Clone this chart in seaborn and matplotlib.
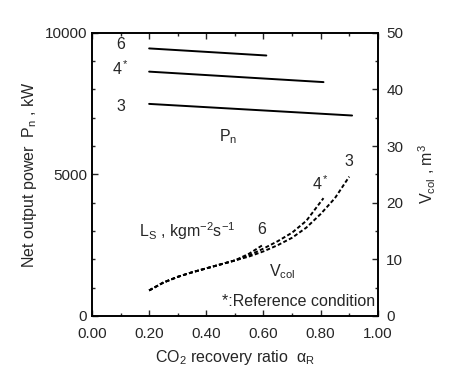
import numpy as np
import matplotlib.pyplot as plt
import pandas as pd
import seaborn as sns
from matplotlib.ticker import MultipleLocator

sns.set_theme(style="ticks")
plt.rcParams['font.family'] = ['Liberation Sans', 'DejaVu Sans']
plt.rcParams['mathtext.fontset'] = 'custom'
plt.rcParams['mathtext.rm'] = 'Liberation Sans'
plt.rcParams['mathtext.it'] = 'Liberation Sans'

# Net output power Pn (kW) for each liquid flux Ls
pn_x_6 = [0.20, 0.61]
pn_y_6 = [9450, 9200]
pn_x_4 = [0.20, 0.81]
pn_y_4 = [8630, 8260]
pn_x_3 = [0.20, 0.91]
pn_y_3 = [7490, 7080]

# Column volume Vcol (m3)
v_x_6 = [0.20, 0.25, 0.30, 0.35, 0.40, 0.45, 0.50, 0.55, 0.60]
v_y_6 = [4.5, 5.9, 6.9, 7.7, 8.4, 9.1, 9.8, 11.0, 12.6]
v_x_4 = [0.20, 0.25, 0.30, 0.35, 0.40, 0.45, 0.50, 0.55, 0.60, 0.65, 0.70, 0.75, 0.81]
v_y_4 = [4.5, 5.9, 6.9, 7.7, 8.4, 9.1, 9.8, 10.7, 11.9, 13.2, 14.7, 16.8, 20.8]
v_x_3 = [0.20, 0.25, 0.30, 0.35, 0.40, 0.45, 0.50, 0.55, 0.60, 0.65, 0.70, 0.75, 0.80, 0.85, 0.90]
v_y_3 = [4.5, 5.9, 6.9, 7.7, 8.4, 9.1, 9.8, 10.5, 11.4, 12.5, 13.8, 15.6, 18.0, 20.8, 24.6]

pn = pd.concat([
    pd.DataFrame({'x': pn_x_6, 'y': pn_y_6, 'Ls': '6'}),
    pd.DataFrame({'x': pn_x_4, 'y': pn_y_4, 'Ls': '4'}),
    pd.DataFrame({'x': pn_x_3, 'y': pn_y_3, 'Ls': '3'}),
])
vc = pd.concat([
    pd.DataFrame({'x': v_x_6, 'y': v_y_6, 'Ls': '6'}),
    pd.DataFrame({'x': v_x_4, 'y': v_y_4, 'Ls': '4'}),
    pd.DataFrame({'x': v_x_3, 'y': v_y_3, 'Ls': '3'}),
])

fig = plt.figure(figsize=(4.53, 3.82), dpi=100)
ax = fig.add_axes([0.203, 0.173, 0.631, 0.741])
ax2 = ax.twinx()

sns.lineplot(data=pn, x='x', y='y', units='Ls', estimator=None, color='black',
             lw=1.4, legend=False, ax=ax)
sns.lineplot(data=vc, x='x', y='y', units='Ls', estimator=None, color='black',
             lw=1.4, ls=(0, (2.0, 1.2)), legend=False, ax=ax2)

ax.set_xlim(0, 1)
ax.set_ylim(0, 10000)
ax2.set_ylim(0, 50)
ax.set_xticks([0, 0.2, 0.4, 0.6, 0.8, 1.0])
ax.set_xticklabels(['0.00', '0.20', '0.40', '0.60', '0.80', '1.00'])
ax.set_yticks([0, 5000, 10000])
ax.xaxis.set_minor_locator(MultipleLocator(0.1))
ax.yaxis.set_minor_locator(MultipleLocator(1000))
ax2.set_yticks([0, 10, 20, 30, 40, 50])
ax2.yaxis.set_minor_locator(MultipleLocator(5))

for a in (ax, ax2):
    a.tick_params(which='both', direction='in', labelsize=11, width=1)
    a.tick_params(which='major', length=4)
    a.tick_params(which='minor', length=2.5)
    for s in a.spines.values():
        s.set_linewidth(1.2)
        s.set_color('black')
ax.tick_params(top=True, which='both')
ax.tick_params(axis='x', pad=8)
ax2.tick_params(axis='y', pad=6)

ax.set_xlabel(r'CO$_2$ recovery ratio  $\alpha_R$', fontsize=11.5, labelpad=5)
ax.set_ylabel(r'Net output power  P$_n$ , kW', fontsize=11.5, labelpad=4)
ax2.set_ylabel(r'V$_{col}$ , m$^3$', fontsize=11.5, labelpad=10)

fs = 11.5
ax.text(0.10, 9600, '6', fontsize=fs, ha='center', va='center')
ax.text(0.10, 8750, r'4$^*$', fontsize=fs, ha='center', va='center')
ax.text(0.10, 7400, '3', fontsize=fs, ha='center', va='center')
ax.text(0.475, 6350, r'P$_n$', fontsize=fs, ha='center', va='center')
ax2.text(0.90, 27.3, '3', fontsize=fs, ha='center', va='center')
ax2.text(0.80, 23.3, r'4$^*$', fontsize=fs, ha='center', va='center')
ax2.text(0.595, 15.2, '6', fontsize=fs, ha='center', va='center')
ax2.text(0.165, 15.0, r'L$_S$ , kgm$^{\mathregular{-2}}$s$^{\mathregular{-1}}$', fontsize=fs, ha='left', va='center')
ax2.text(0.665, 7.8, r'V$_{col}$', fontsize=fs, ha='center', va='center')
ax2.text(0.99, 2.6, '*:Reference condition', fontsize=fs, ha='right', va='center')

fig.savefig('out.png', dpi=100)
